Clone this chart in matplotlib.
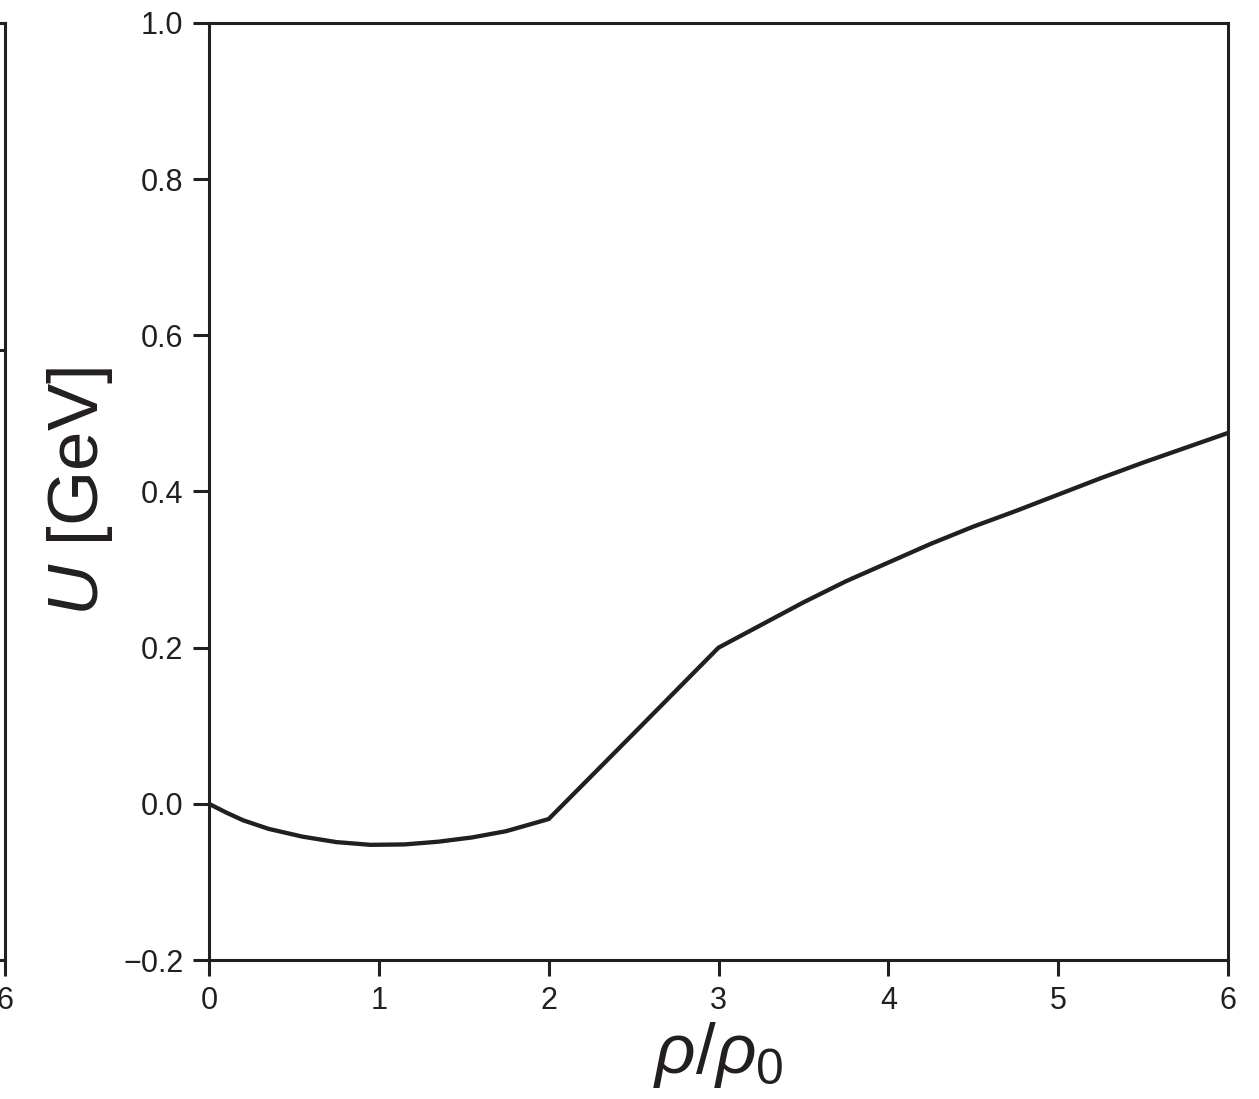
import matplotlib
matplotlib.use('Agg')
import matplotlib.pyplot as plt

# density in units of rho_0 and potential U in GeV
rho = [0.0, 0.1, 0.2, 0.35, 0.55, 0.75, 0.95, 1.15, 1.35, 1.55, 1.75, 2.0,
       2.5, 3.0, 3.25, 3.5, 3.75, 4.0, 4.25, 4.5, 4.75, 5.0, 5.25, 5.5,
       5.75, 6.0]
U = [0.0, -0.011, -0.021, -0.032, -0.042, -0.049, -0.0525, -0.052, -0.0485,
     -0.043, -0.035, -0.0195,
     0.090, 0.200, 0.229, 0.258, 0.285, 0.309, 0.333, 0.355, 0.375, 0.396,
     0.417, 0.437, 0.456, 0.475]

x_ticks = [0, 1, 2, 3, 4, 5, 6]
y_ticks = [-0.2, 0.0, 0.2, 0.4, 0.6, 0.8, 1.0]
y_labels = ['\u22120.2', '0.0', '0.2', '0.4', '0.6', '0.8', '1.0']

plt.rcParams['font.family'] = ['Liberation Sans', 'DejaVu Sans']
plt.rcParams['mathtext.fontset'] = 'custom'
plt.rcParams['mathtext.rm'] = 'Liberation Sans'
plt.rcParams['mathtext.it'] = 'Liberation Sans:italic'

W, H = 1259, 1099
fig = plt.figure(figsize=(W / 100, H / 100), dpi=100)

ink = '#231f20'
ax_left, ax_right, ax_top, ax_bottom = 209, 1228, 23, 960
aw = (ax_right - ax_left) / W
ah = (ax_bottom - ax_top) / H
ab = 1 - ax_bottom / H

def style(ax):
    for s in ax.spines.values():
        s.set_linewidth(2.2)
        s.set_color(ink)
    ax.tick_params(length=11.5, width=2.2, color=ink, labelsize=22,
                   labelcolor=ink, pad=7)

# neighbouring panel, mostly cut off at the left edge
ax0 = fig.add_axes([(5 - (ax_right - ax_left)) / W, ab, aw, ah])
style(ax0)
ax0.set_xlim(0, 6)
ax0.set_xticks(x_ticks)
ax0.set_ylim(0, 1)
ax0.set_yticks([0.651])
ax0.tick_params(axis='y', left=False, labelleft=False, right=True,
                direction='in')

ax = fig.add_axes([ax_left / W, ab, aw, ah])
style(ax)
ax.plot(rho, U, color=ink, lw=3.1)
ax.set_xlim(0, 6)
ax.set_ylim(-0.2, 1.0)
ax.set_xticks(x_ticks)
ax.set_yticks(y_ticks)
ax.set_yticklabels(y_labels)
ax.set_xlabel(r'$\rho/\rho_0$', fontsize=51, color=ink, labelpad=3)
ax.set_ylabel(r'$U$ [GeV]', fontsize=51, color=ink, labelpad=6)

fig.savefig('out.png', dpi=100)
